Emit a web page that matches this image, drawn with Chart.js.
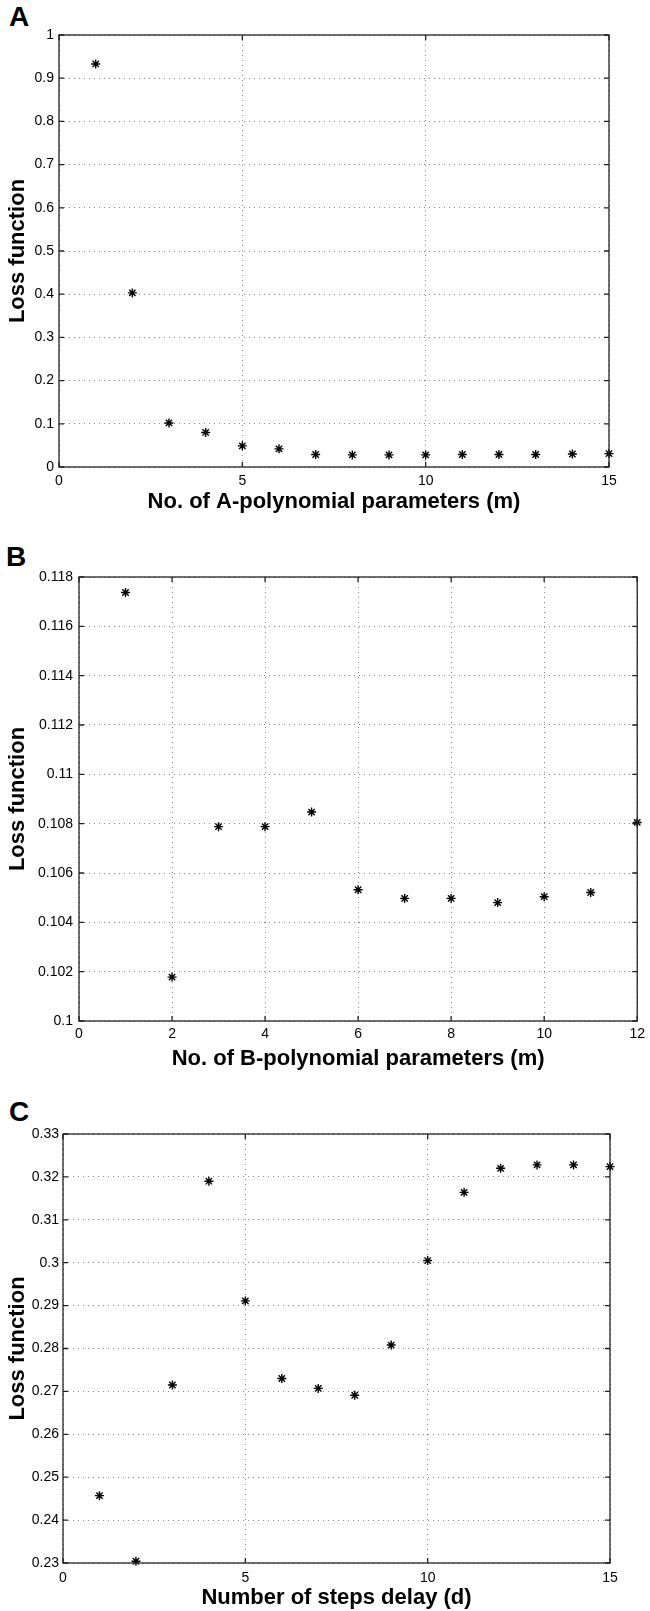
<!DOCTYPE html>
<html>
<head>
<meta charset="utf-8">
<script src="https://cdn.jsdelivr.net/npm/chart.js@4/dist/chart.umd.min.js"></script>
<style>
  body { margin: 0; background: #fff; width: 650px; height: 1611px; position: relative; overflow: hidden; }
  canvas { position: absolute; left: 0; }
  .panel { position: absolute; font: bold 28px "Liberation Sans", Arial, sans-serif; line-height: 28px; color: #000; }
</style>
</head>
<body>
<div class="panel" style="left:9px; top:3px;">A</div>
<div class="panel" style="left:6px; top:543px;">B</div>
<div class="panel" style="left:9px; top:1098px;">C</div>
<canvas id="chartA" width="650" height="520" style="top:0px;"></canvas>
<canvas id="chartB" width="650" height="555" style="top:520px;"></canvas>
<canvas id="chartC" width="650" height="536" style="top:1075px;"></canvas>
<script>
// Panel A: loss vs number of A-polynomial parameters
const aParams = [1, 2, 3, 4, 5, 6, 7, 8, 9, 10, 11, 12, 13, 14, 15];
const aLoss = [0.933, 0.403, 0.102, 0.080, 0.049, 0.042, 0.029, 0.028, 0.028, 0.028, 0.029, 0.029, 0.029, 0.030, 0.031];
const aXTicks = [0, 5, 10, 15];
const aYTicks = [0, 0.1, 0.2, 0.3, 0.4, 0.5, 0.6, 0.7, 0.8, 0.9, 1];

// Panel B: loss vs number of B-polynomial parameters
const bParams = [1, 2, 3, 4, 5, 6, 7, 8, 9, 10, 11, 12];
const bLoss = [0.11737, 0.10178, 0.10788, 0.10788, 0.10847, 0.10532, 0.10497, 0.10497, 0.10480, 0.10504, 0.10521, 0.10805];
const bXTicks = [0, 2, 4, 6, 8, 10, 12];
const bYTicks = [0.1, 0.102, 0.104, 0.106, 0.108, 0.11, 0.112, 0.114, 0.116, 0.118];

// Panel C: loss vs number of steps delay
const cDelay = [1, 2, 3, 4, 5, 6, 7, 8, 9, 10, 11, 12, 13, 14, 15];
const cLoss = [0.2457, 0.2304, 0.2715, 0.3190, 0.2911, 0.2730, 0.2707, 0.2691, 0.2808, 0.3005, 0.3164, 0.3220, 0.3228, 0.3228, 0.3224];
const cXTicks = [0, 5, 10, 15];
const cYTicks = [0.23, 0.24, 0.25, 0.26, 0.27, 0.28, 0.29, 0.3, 0.31, 0.32, 0.33];

Chart.defaults.font.family = '"Liberation Sans", Arial, sans-serif';
Chart.defaults.color = '#000';

/*
*   Draws the box round the plot and the inward tick marks (MATLAB look)
*/
const boxPlugin = {
    id: 'boxPlugin',
    afterDraw(chart) {
        const ctx = chart.ctx;
        const a = chart.chartArea;
        const x = chart.scales.x;
        const y = chart.scales.y;
        ctx.save();
        ctx.strokeStyle = '#222';
        ctx.lineWidth = 1.3;
        ctx.strokeRect(a.left, a.top, a.right - a.left, a.bottom - a.top);
        ctx.beginPath();
        x.ticks.forEach(t => {
            let px = x.getPixelForValue(t.value);
            ctx.moveTo(px, a.bottom); ctx.lineTo(px, a.bottom - 5);
            ctx.moveTo(px, a.top); ctx.lineTo(px, a.top + 5);
        });
        y.ticks.forEach(t => {
            let py = y.getPixelForValue(t.value);
            ctx.moveTo(a.left, py); ctx.lineTo(a.left + 5, py);
            ctx.moveTo(a.right, py); ctx.lineTo(a.right - 5, py);
        });
        ctx.stroke();
        ctx.restore();
    }
};

// MATLAB style labels: no trailing zeros
function fmt(v) {
    return String(parseFloat(v.toFixed(4)));
}

/*
*   Builds one panel
*/
function makeChart(id, xs, ys, xTicks, yTicks, xTitle, lay) {
    let points = xs.map((v, i) => ({ x: v, y: ys[i] }));
    let ctx = document.getElementById(id).getContext('2d');
    return new Chart(ctx, {
        type: 'scatter',
        data: {
            datasets: [{
                data: points,
                pointStyle: 'star',
                pointRadius: 4.5,
                borderColor: '#000',
                backgroundColor: '#000',
                borderWidth: 1.4,
                clip: false
            }]
        },
        options: {
            responsive: false,
            animation: false,
            devicePixelRatio: 1,
            layout: { padding: { left: 0, right: lay.right, top: lay.top, bottom: 0 } },
            plugins: { legend: { display: false }, tooltip: { enabled: false } },
            scales: {
                x: {
                    type: 'linear',
                    min: xTicks[0],
                    max: xTicks[xTicks.length - 1],
                    afterBuildTicks: s => { s.ticks = xTicks.map(v => ({ value: v })); },
                    afterFit: s => { s.height = lay.xh; },
                    ticks: { font: { size: 14 }, padding: lay.xpad, callback: v => fmt(v), maxRotation: 0 },
                    grid: { color: '#8a8a8a', lineWidth: 1, drawTicks: false },
                    border: { display: false, dash: [1, 4] },
                    title: { display: true, text: xTitle, font: { size: 22, weight: 'bold' }, padding: { top: 0, bottom: lay.tpad } }
                },
                y: {
                    type: 'linear',
                    min: yTicks[0],
                    max: yTicks[yTicks.length - 1],
                    afterBuildTicks: s => { s.ticks = yTicks.map(v => ({ value: v })); },
                    afterFit: s => { s.width = lay.yw; },
                    ticks: { font: { size: 14 }, padding: lay.ypad, callback: v => fmt(v) },
                    grid: { color: '#8a8a8a', lineWidth: 1, drawTicks: false },
                    border: { display: false, dash: [1, 4] },
                    title: { display: true, text: 'Loss function', font: { size: 22, weight: 'bold' }, padding: { top: 5, bottom: 0 } }
                }
            }
        },
        plugins: [boxPlugin]
    });
}

makeChart('chartA', aParams, aLoss, aXTicks, aYTicks, 'No. of A-polynomial parameters (m)',
    { top: 35, right: 41, yw: 59, xh: 53, xpad: 6, ypad: 5, tpad: 5 });
makeChart('chartB', bParams, bLoss, bXTicks, bYTicks, 'No. of B-polynomial parameters (m)',
    { top: 57, right: 9, yw: 79, xh: 54, xpad: 5, ypad: 6, tpad: 3 });
makeChart('chartC', cDelay, cLoss, cXTicks, cYTicks, 'Number of steps delay (d)',
    { top: 59, right: 40, yw: 63, xh: 48, xpad: 7, ypad: 4, tpad: 0 });
</script>
</body>
</html>
